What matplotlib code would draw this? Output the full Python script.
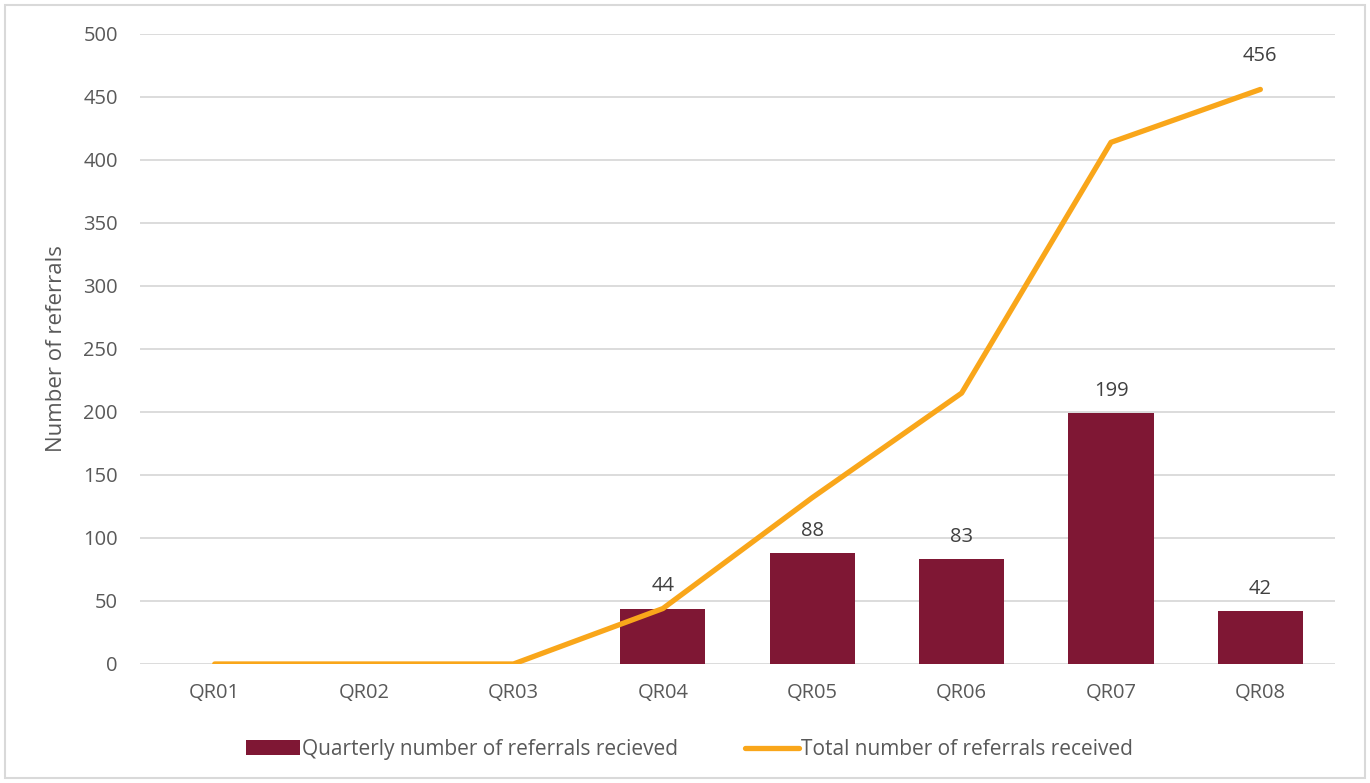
import matplotlib
import matplotlib.pyplot as plt
import numpy as np
from matplotlib.lines import Line2D
from matplotlib.patches import Patch, Rectangle

matplotlib.use("Agg")

quarters = ["QR01", "QR02", "QR03", "QR04", "QR05", "QR06", "QR07", "QR08"]
quarterly = [0, 0, 0, 44, 88, 83, 199, 42]
total = [0, 0, 0, 44, 132, 215, 414, 456]

BAR_COLOR = "#7F1734"
LINE_COLOR = "#F9A61A"
TEXT_COLOR = "#595959"

plt.rcParams["font.family"] = ["Open Sans", "DejaVu Sans"]

fig = plt.figure(figsize=(13.7, 7.83), dpi=100)
ax = fig.add_axes([0.1022, 0.152, 0.8723, 0.8046])

x = np.arange(len(quarters))
ax.bar(x, quarterly, width=0.57, color=BAR_COLOR, zorder=2)
ax.plot(x, total, color=LINE_COLOR, lw=3.8, solid_capstyle="round",
        solid_joinstyle="round", zorder=3)

# value labels only for quarters that had referrals
for xi, v in zip(x, quarterly):
    if v > 0:
        ax.annotate(str(v), (xi, v), xytext=(0, 9), textcoords="offset points",
                    ha="center", va="bottom", fontsize=14.5, color="#404040")
ax.annotate(str(total[-1]), (x[-1], total[-1]), xytext=(0, 17),
            textcoords="offset points", ha="center", va="bottom",
            fontsize=14.5, color="#404040")

ax.set_xlim(-0.5, len(quarters) - 0.5)
ax.set_ylim(0, 500)
ax.set_yticks(range(0, 501, 50))
ax.set_xticks(x)
ax.set_xticklabels(quarters)
ax.yaxis.grid(True, color="#D9D9D9", lw=1.3, zorder=0)
ax.set_axisbelow(True)
for s in ax.spines.values():
    s.set_visible(False)
ax.tick_params(axis="both", length=0, labelsize=14.5, colors=TEXT_COLOR)
ax.tick_params(axis="y", pad=16)
ax.tick_params(axis="x", pad=14)
ax.set_ylabel("Number of referrals", fontsize=16, color=TEXT_COLOR, labelpad=12)

handles = [Patch(facecolor=BAR_COLOR),
           Line2D([0], [0], color=LINE_COLOR, lw=3.8, solid_capstyle="round")]
labels = ["Quarterly number of referrals recieved",
          "Total number of referrals received"]
leg = fig.legend(handles, labels, loc="center", bbox_to_anchor=(0.503, 0.043),
                 ncol=2, frameon=False, fontsize=15, handlelength=2.6,
                 handletextpad=0.1, columnspacing=3.2)
for t in leg.get_texts():
    t.set_color(TEXT_COLOR)

# light frame around the whole chart
fig.patches.append(Rectangle((0.004, 0.006), 0.992, 0.988, transform=fig.transFigure,
                             fill=False, edgecolor="#D9D9D9", lw=1.5))

fig.savefig("out.png", dpi=100)
